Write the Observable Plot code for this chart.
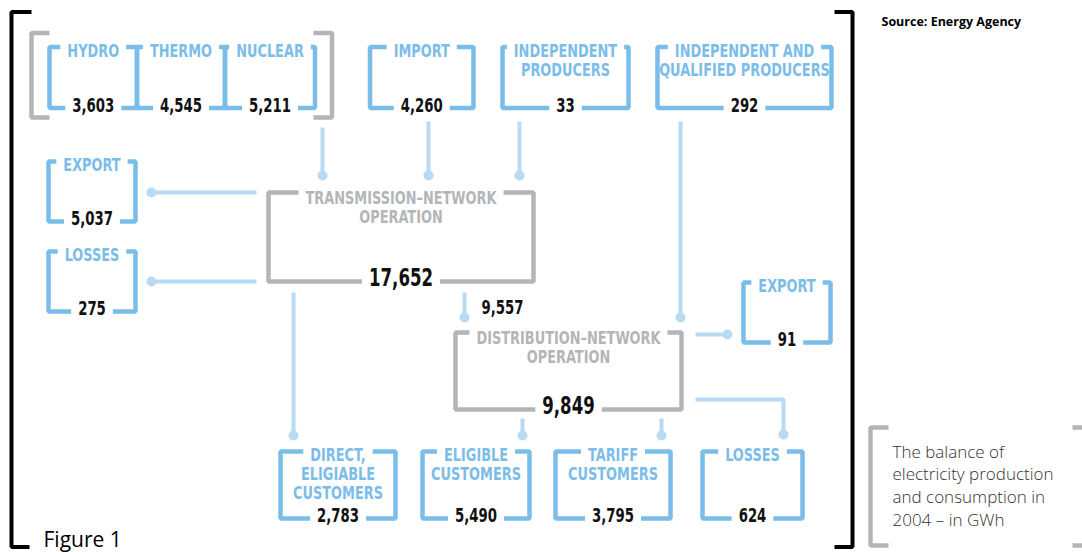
<!DOCTYPE html>
<html><head><meta charset="utf-8">
<script src="https://cdn.jsdelivr.net/npm/d3@7"></script>
<script src="https://cdn.jsdelivr.net/npm/@observablehq/plot@0.6"></script>
<style>html,body{margin:0;padding:0;background:#fff;} #chart{width:1082px;height:552px;overflow:hidden}</style>
</head><body><div id="chart"></div>
<script>
// ---------------- data ----------------
const nodeIds = ["hydro","thermo","nuclear","import","indep","indepQual","exportT","lossesT","transmission","distribution","exportD","direct","eligible","tariff","lossesD"];
const nodeLabels = ["HYDRO","THERMO","NUCLEAR","IMPORT","INDEPENDENT\nPRODUCERS","INDEPENDENT AND\nQUALIFIED PRODUCERS","EXPORT","LOSSES","TRANSMISSION–NETWORK\nOPERATION","DISTRIBUTION–NETWORK\nOPERATION","EXPORT","DIRECT,\nELIGIABLE\nCUSTOMERS","ELIGIBLE\nCUSTOMERS","TARIFF\nCUSTOMERS","LOSSES"];
const nodeValues = [3603,4545,5211,4260,33,292,5037,275,17652,9849,91,2783,5490,3795,624];
const transferValue = 9557; // transmission -> distribution
const sourceText = "Source: Energy Agency";
const captionText = "The balance of\nelectricity production\nand consumption in\n2004 – in GWh";
const figureText = "Figure 1";

// ---------------- layout (diagram geometry, separate from data) ----------------
const W = 1082, H = 552;
const boxLayout = {
  hydro:        {x0:49,    x1:136.5, y0:46.5, y1:107.5, kind:"blue"},
  thermo:       {x0:136.5, x1:224.5, y0:46.5, y1:107.5, kind:"blue"},
  nuclear:      {x0:224.5, x1:314.5, y0:46.5, y1:107.5, kind:"blue"},
  import:       {x0:369.5, x1:473,   y0:46.5, y1:107.5, kind:"blue"},
  indep:        {x0:502,   x1:628,   y0:46.5, y1:107.5, kind:"blue"},
  indepQual:    {x0:657,   x1:831,   y0:46.5, y1:107.5, kind:"blue"},
  exportT:      {x0:48,    x1:135,   y0:161,  y1:221,   kind:"blue"},
  lossesT:      {x0:48,    x1:135,   y0:251,  y1:311,   kind:"blue"},
  transmission: {x0:268,   x1:533,   y0:192,  y1:281,   kind:"gray", big:true},
  distribution: {x0:455,   x1:681,   y0:332,  y1:409,   kind:"gray", big:true},
  exportD:      {x0:743,   x1:830,   y0:282,  y1:342,   kind:"blue"},
  direct:       {x0:280,   x1:395,   y0:451,  y1:518,   kind:"blue"},
  eligible:     {x0:422,   x1:529,   y0:451,  y1:518,   kind:"blue"},
  tariff:       {x0:555,   x1:670,   y0:451,  y1:518,   kind:"blue"},
  lossesD:      {x0:702,   x1:802,   y0:451,  y1:518,   kind:"blue"}
};
const connectorLayout = [
  [[322,127],[322,175]],
  [[428,121],[428,175]],
  [[519,121],[519,175]],
  [[680,121],[680,317]],
  [[256,192],[151,192]],
  [[256,281],[151,281]],
  [[293,292],[293,435]],
  [[464,292],[464,317]],
  [[695,334],[727,334]],
  [[695,399],[783,399],[783,434]],
  [[522,418],[522,435]],
  [[661,418],[661,435]]
];
const bracketLayout = [ // plain gray brackets: group + caption
  [[49,32.5],[31,32.5],[31,117],[49,117]],
  [[313,32.5],[331.5,32.5],[331.5,117],[313,117]],
  [[888,427],[870,427],[870,545],[888,545]],
  [[1072,427],[1090,427],[1090,545],[1072,545]]
];
const frameLayout = [
  [[31,11.5],[11,11.5],[11,546.5],[29,546.5]],
  [[834,11.5],[852,11.5],[852,546.5],[834,546.5]]
];
const transferPos = {x: 502, y: 313};

// ---------------- styles ----------------
const BLUE = "#7bbde9", LIGHT = "#b8daf3", GRAY = "#b3b5b8", INK = "#111";
const COND = '"Liberation Sans Narrow", "DejaVu Sans Condensed", "Arial Narrow", sans-serif';
const HUMAN = '"Open Sans", "Noto Sans", sans-serif';
const LABEL_SIZE = 17.5, VALUE_SIZE = 20, BIG_SIZE = 25, LINE_H = 1.08, PAD = 7;

const fmt = d3.format(",");
const ctx = document.createElement("canvas").getContext("2d");
function textWidth(s, size) { ctx.font = `bold ${size}px ${COND}`; return ctx.measureText(s).width; }
// horizontal squeeze so that the fallback fonts reach the reference's condensed widths
const SX_LABEL = 191 / textWidth("TRANSMISSION–NETWORK", LABEL_SIZE);
const SX_VALUE = 42 / textWidth("3,603", VALUE_SIZE);
const SX_BIG = 64 / textWidth("17,652", BIG_SIZE);

const nodes = nodeIds.map((id, i) => {
  const b = boxLayout[id];
  const cx = (b.x0 + b.x1) / 2;
  const vsize = b.big ? BIG_SIZE : VALUE_SIZE;
  const vsx = b.big ? SX_BIG : SX_VALUE;
  return {id, label: nodeLabels[i], value: nodeValues[i], valueText: fmt(nodeValues[i]), cx, vsize, vsx, ...b};
});

const boxSegs = [];
for (const n of nodes) {
  const gt = textWidth(n.label.split("\n")[0], LABEL_SIZE) * SX_LABEL / 2 + PAD;
  const gb = textWidth(n.valueText, n.vsize) * n.vsx / 2 + PAD;
  const L = [[n.cx - gt, n.y0],[n.x0, n.y0],[n.x0, n.y1],[n.cx - gb, n.y1]];
  const R = [[n.cx + gt, n.y0],[n.x1, n.y0],[n.x1, n.y1],[n.cx + gb, n.y1]];
  for (const [side, pts] of [["L", L], ["R", R]])
    for (const [x, y] of pts) boxSegs.push({sid: n.id + side, kind: n.kind, x, y});
}
const toPts = (list) => list.flatMap((pts, k) => pts.map(([x, y]) => ({sid: k, x, y})));
const connectorPts = toPts(connectorLayout);
const connectorEnds = connectorLayout.map(pts => ({x: pts[pts.length - 1][0], y: pts[pts.length - 1][1]}));
const bracketPts = toPts(bracketLayout);
const framePts = toPts(frameLayout);

const lineOpts = {x: "x", y: "y", z: "sid", strokeLinejoin: "miter", strokeLinecap: "butt"};
const labelOpts = {x: "cx", y: d => d.y0 - 3.5, text: "label", fontFamily: COND, fontWeight: "bold",
  fontSize: LABEL_SIZE, lineAnchor: "top", lineHeight: LINE_H, textAnchor: "middle"};
const valueOpts = {x: "cx", y: d => d.y1 + 3.5, text: "valueText", fontFamily: COND, fontWeight: "bold",
  lineAnchor: "bottom", textAnchor: "middle", fill: INK};

const captionSize = 17, captionLH = 23 / 17;
// text marks, in drawing order, with their horizontal squeeze factors
const textMarks = [
  [Plot.text(nodes.filter(d => d.kind === "blue"), {...labelOpts, fill: BLUE}), SX_LABEL],
  [Plot.text(nodes.filter(d => d.kind === "gray"), {...labelOpts, fill: GRAY, y: d => d.y0 - 2.5, lineHeight: 1.1}), SX_LABEL],
  [Plot.text(nodes.filter(d => !d.big), {...valueOpts, fontSize: VALUE_SIZE}), SX_VALUE],
  [Plot.text(nodes.filter(d => d.big), {...valueOpts, fontSize: BIG_SIZE, y: d => d.y1 + 4.5}), SX_BIG],
  [Plot.text([{...transferPos, t: fmt(transferValue)}], {x: "x", y: "y", text: "t", fontFamily: COND,
    fontWeight: "bold", fontSize: VALUE_SIZE, lineAnchor: "bottom", textAnchor: "middle", fill: INK}), SX_VALUE],
  [Plot.text([{x: 881, y: 25, t: sourceText}], {x: "x", y: "y", text: "t", fontFamily: HUMAN, fontWeight: "bold",
    fontSize: 12.5, lineAnchor: "bottom", textAnchor: "start", fill: "#000"}), 1],
  [Plot.text([{x: 43, y: 546, t: figureText}], {x: "x", y: "y", text: "t", fontFamily: HUMAN, fontSize: 21,
    lineAnchor: "bottom", textAnchor: "start", fill: "#000"}), 1],
  [Plot.text([{x: 892, y: 457 - 0.71 * captionLH * captionSize, t: captionText}], {x: "x", y: "y", text: "t", fontFamily: HUMAN,
    fontWeight: 300, fontSize: captionSize, lineHeight: captionLH, lineAnchor: "top", textAnchor: "start", fill: "#333"}), 1]
];

const plot = Plot.plot({
  width: W, height: H, margin: 0,
  x: {domain: [0, W], range: [0, W], axis: null},
  y: {domain: [0, H], range: [0, H], axis: null},
  style: {background: "#fff", overflow: "hidden"},
  marks: [
    Plot.line(framePts, {...lineOpts, stroke: "#000", strokeWidth: 4}),
    Plot.line(bracketPts, {...lineOpts, stroke: GRAY, strokeWidth: 4.5}),
    Plot.line(connectorPts, {...lineOpts, stroke: LIGHT, strokeWidth: 4}),
    Plot.dot(connectorEnds, {x: "x", y: "y", r: 5, fill: LIGHT, stroke: "none"}),
    Plot.line(boxSegs.filter(d => d.kind === "blue"), {...lineOpts, stroke: BLUE, strokeWidth: 4.5}),
    Plot.line(boxSegs.filter(d => d.kind === "gray"), {...lineOpts, stroke: GRAY, strokeWidth: 4.5}),
    ...textMarks.map(d => d[0])
  ]
});
// apply the squeeze to each text group (text marks render as g[aria-label="text"] in mark order)
const textGroups = plot.querySelectorAll('g[aria-label="text"]');
textGroups.forEach((g, k) => {
  const sx = textMarks[k] ? textMarks[k][1] : 1;
  if (sx === 1) return;
  g.querySelectorAll("text").forEach(t => {
    const tr = t.getAttribute("transform");
    if (tr) t.setAttribute("transform", `${tr} scale(${sx},1)`);
  });
});
document.getElementById("chart").appendChild(plot);
</script>
</body></html>
